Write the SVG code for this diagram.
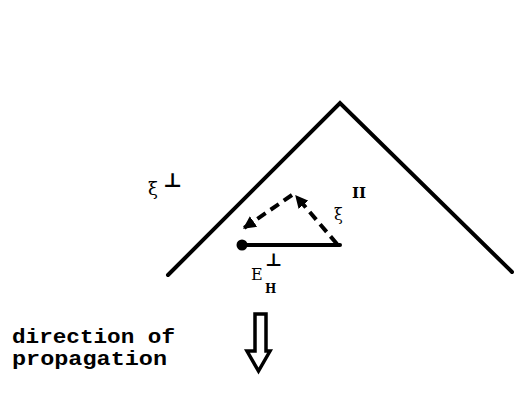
<svg xmlns="http://www.w3.org/2000/svg" width="514" height="403" viewBox="0 0 514 403">
<defs>
<style>
.ln{fill:none;stroke:#000;stroke-width:4;stroke-linecap:round;stroke-linejoin:miter}
.dash{fill:none;stroke:#000;stroke-width:4;stroke-dasharray:10 6}
.sym{font-family:"DejaVu Serif","Liberation Serif",serif;fill:#000}
.lab{font-family:"Liberation Mono","DejaVu Sans Mono",monospace;font-weight:bold;font-size:20px;fill:#000}
</style>
<marker id="ah" viewBox="0 0 10 10" refX="9" refY="5" markerWidth="3.2" markerHeight="3.2" orient="auto" markerUnits="strokeWidth">
<path d="M0,0 L10,5 L0,10 Z" fill="#000"/>
</marker>
</defs>
<g id="wavefront">
<polyline class="ln" points="168,275 340,103 512,272"/>
</g>
<g id="connectors">
<line class="dash" x1="337" y1="244" x2="296" y2="196" marker-end="url(#ah)"/>
<line class="dash" x1="292" y1="195" x2="244" y2="228" marker-end="url(#ah)"/>
<line class="ln" x1="243" y1="245" x2="340" y2="245" stroke-width="4.5"/>
<circle cx="242" cy="245" r="5.5" fill="#000"/>
</g>
<g id="label-xi-perp">
<text class="sym" x="148" y="195" font-size="18">ξ</text>
<text class="sym" x="163" y="187" font-size="20" font-weight="bold">⊥</text>
</g>
<g id="label-xi-par">
<text class="sym" x="334" y="220" font-size="16">ξ</text>
<text class="sym" x="352" y="198" font-size="15" font-weight="bold">II</text>
</g>
<g id="label-EH">
<text class="sym" x="251" y="280" font-size="16">E</text>
<text class="sym" x="265" y="293" font-size="12" font-weight="bold">H</text>
<text class="sym" x="265" y="266" font-size="18" font-weight="bold">⊥</text>
</g>
<g id="label-direction">
<text class="lab" x="12" y="343" textLength="163" lengthAdjust="spacingAndGlyphs">direction of</text>
<text class="lab" x="12" y="365" textLength="155" lengthAdjust="spacingAndGlyphs">propagation</text>
</g>
<g id="prop-arrow">
<path d="M255,314 L266,314 L266,351 L270,351 L258.5,371 L247,351 L255,351 Z" fill="none" stroke="#000" stroke-width="3.5" stroke-linejoin="miter"/>
</g>
</svg>
